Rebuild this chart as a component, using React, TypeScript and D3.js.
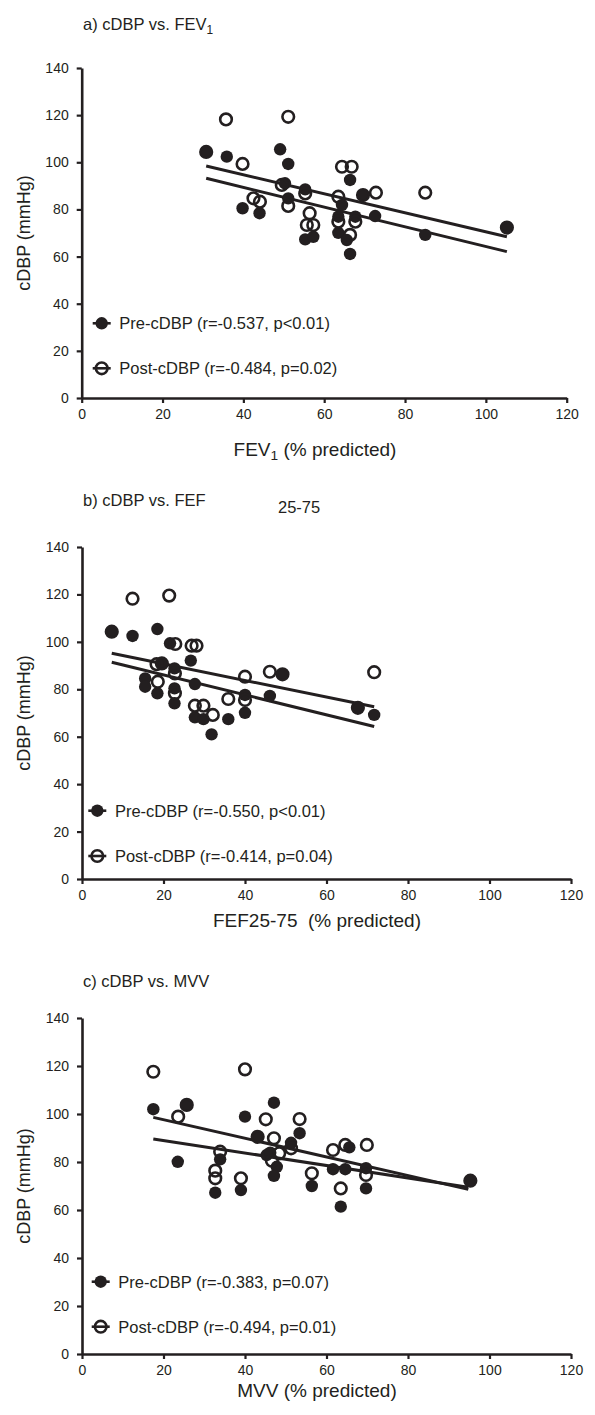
import * as React from 'react';
import { useEffect, useRef } from 'react';
import * as d3 from 'd3';

const font = "'Liberation Sans', Arial, Helvetica, sans-serif";
const ink = '#231f20';

// axis ticks (same for all three panels)
const xTicks = [0, 20, 40, 60, 80, 100, 120];
const yTicks = [0, 20, 40, 60, 80, 100, 120, 140];

// a) FEV1 (% predicted) vs cDBP
const fevPre = [
  [30.8, 104.4], [35.9, 102.4], [49.1, 105.5], [51.1, 99.3], [50.3, 91.1], [51.1, 84.7],
  [55.3, 88.5], [39.8, 80.5], [44, 78.4], [55.3, 67.3], [57.3, 68.4], [66.4, 92.5],
  [69.6, 86.1], [72.6, 77.2], [105.2, 72.3], [85, 69.2], [64.4, 81.9], [63.5, 76.9],
  [67.7, 76.9], [63.5, 70.1], [65.6, 67], [66.4, 61.1],
];
const fevPost = [
  [35.7, 118.2], [51.1, 119.3], [39.8, 99.3], [64.4, 98.1], [66.8, 98.1], [49.5, 90.4],
  [42.5, 84.7], [44.1, 83.3], [51.1, 81.5], [55.3, 86.8], [56.4, 78.4], [55.7, 73.4],
  [57.3, 73.4], [63.5, 85.4], [63.5, 74.8], [67.7, 74.8], [66.4, 69.2], [72.8, 87.1],
  [85, 87.1], [30.8, 104.4], [105.2, 72.3], [69.6, 86.1],
];
const fevFitPre = [[30.8, 93.2], [105.2, 62.1]];
const fevFitPost = [[30.8, 98.4], [105.2, 68.4]];

// b) FEF25-75 (% predicted) vs cDBP
const fefPre = [
  [7.3, 104.3], [12.4, 102.5], [18.5, 105.4], [21.6, 99.4], [26.7, 92.1], [19.6, 90.9],
  [22.7, 88.8], [15.5, 84.6], [15.5, 81.1], [18.5, 78.3], [22.7, 80.4], [22.7, 74.1],
  [27.7, 82.2], [40, 77.6], [46.1, 77.2], [40, 70.1], [27.7, 68.2], [29.8, 67.4],
  [35.9, 67.4], [31.8, 61], [49.2, 86.3], [67.7, 72.2], [71.7, 69.2],
];
const fefPost = [
  [12.4, 118.2], [21.4, 119.5], [22.9, 99.1], [26.9, 98.4], [28.1, 98.4], [18.3, 90.6],
  [40, 85.3], [46.1, 87.4], [18.6, 83.2], [22.8, 86.7], [22.8, 78.3], [35.9, 75.9],
  [40, 75.5], [27.7, 73.1], [29.8, 73.1], [32.1, 69.2], [71.7, 87.2], [7.3, 104.3],
  [19.6, 90.9], [49.2, 86.3], [67.7, 72.2],
];
const fefFitPre = [[7.3, 91.4], [71.7, 64.3]];
const fefFitPost = [[7.3, 95.2], [71.7, 72.6]];

// c) MVV (% predicted) vs cDBP
const mvvPre = [
  [17.5, 102], [25.7, 103.8], [23.5, 80.1], [40, 98.9], [47.1, 104.7], [43.1, 90.5],
  [53.4, 92], [51.3, 88], [45.3, 82.9], [46.2, 83.9], [47.8, 78], [47.1, 74.2],
  [33.9, 81.1], [32.7, 67.2], [39, 68.3], [56.4, 70], [61.6, 77], [64.6, 77],
  [65.6, 86.1], [69.7, 77.4], [69.7, 69], [63.5, 61.4], [95.3, 72.2],
];
const mvvPost = [
  [17.5, 117.6], [40, 118.6], [23.6, 98.9], [45.1, 97.8], [53.4, 97.9], [47.1, 89.9],
  [33.9, 84.3], [48.4, 83.6], [51.3, 85.7], [32.7, 76.4], [32.7, 73.2], [39, 73.2],
  [56.4, 75.3], [61.6, 85], [46.6, 80.5], [64.6, 87.1], [69.9, 87.1], [69.7, 74.6],
  [63.5, 69], [25.7, 103.8], [43.1, 90.5], [95.3, 72.2],
];
const mvvFitPre = [[17.5, 89.6], [94.8, 69.5]];
const mvvFitPost = [[17.5, 98.6], [94.8, 68.6]];

const panels = [
  {
    title: ['a) cDBP vs. FEV', '1', ''], titleY: 30,
    xLabel: ['FEV', '1', ' (% predicted)'], xLabelX: 315, xLabelY: 456,
    pre: fevPre, post: fevPost, fitPre: fevFitPre, fitPost: fevFitPost,
    legend: ['Pre-cDBP (r=-0.537, p<0.01)', 'Post-cDBP (r=-0.484, p=0.02)'],
    left: 81.7, right: 566.7, top: 68, bottom: 398, legX: 101.7, legY: [323.3, 368.3],
  },
  {
    title: ['b) cDBP vs. FEF', '', ''], titleY: 506,
    xLabel: ['FEF25-75  (% predicted)', '', ''], xLabelX: 317, xLabelY: 927,
    pre: fefPre, post: fefPost, fitPre: fefFitPre, fitPost: fefFitPost,
    legend: ['Pre-cDBP (r=-0.550, p<0.01)', 'Post-cDBP (r=-0.414, p=0.04)'],
    left: 82, right: 571, top: 547, bottom: 879, legX: 97.3, legY: [810.7, 856],
  },
  {
    title: ['c) cDBP vs. MVV', '', ''], titleY: 987,
    xLabel: ['MVV (% predicted)', '', ''], xLabelX: 317, xLabelY: 1397,
    pre: mvvPre, post: mvvPost, fitPre: mvvFitPre, fitPost: mvvFitPost,
    legend: ['Pre-cDBP (r=-0.383, p=0.07)', 'Post-cDBP (r=-0.494, p=0.01)'],
    left: 82, right: 571, top: 1018, bottom: 1354, legX: 100.7, legY: [1281.7, 1326.7],
  },
];

function subText(sel, parts, size) {
  sel.append('tspan').text(parts[0]);
  if (parts[1]) {
    sel.append('tspan').attr('dy', 4).attr('font-size', size * 0.72).text(parts[1]);
    if (parts[2]) sel.append('tspan').attr('dy', -4).text(parts[2]);
  }
}

export default function App() {
  const ref = useRef(null);

  useEffect(() => {
    const svg = d3.select(ref.current);
    svg.selectAll('*').remove();

    panels.forEach((p) => {
      const x = d3.scaleLinear().domain([0, 120]).range([p.left, p.right]);
      const y = d3.scaleLinear().domain([0, 140]).range([p.bottom, p.top]);
      const g = svg.append('g');

      // title
      const t = g.append('text').attr('x', 83).attr('y', p.titleY)
        .attr('font-size', 16.5).attr('font-family', font).attr('fill', ink);
      subText(t, p.title, 16.5);
      if (p.title[0].startsWith('b)')) {
        g.append('text').attr('x', 278).attr('y', p.titleY + 7)
          .attr('font-size', 16.5).attr('font-family', font).attr('fill', ink).text('25-75');
      }

      // axes
      const ya = g.append('g').attr('transform', `translate(${p.left},0)`)
        .call(d3.axisLeft(y).tickValues(yTicks).tickSize(5).tickSizeOuter(0).tickPadding(8));
      const xa = g.append('g').attr('transform', `translate(0,${p.bottom})`)
        .call(d3.axisBottom(x).tickValues(xTicks).tickSize(5).tickSizeOuter(0).tickPadding(6));
      [ya, xa].forEach((a) => {
        a.attr('font-family', font).attr('font-size', 14);
        a.select('.domain').attr('stroke', ink).attr('stroke-width', 2.6);
        a.selectAll('.tick line').attr('stroke', ink).attr('stroke-width', 2.2);
        a.selectAll('.tick text').attr('fill', ink);
      });

      // axis labels
      g.append('text')
        .attr('transform', `translate(30,${(p.top + p.bottom) / 2}) rotate(-90)`)
        .attr('text-anchor', 'middle').attr('font-size', 18)
        .attr('font-family', font).attr('fill', ink).text('cDBP (mmHg)');
      const xl = g.append('text').attr('x', p.xLabelX).attr('y', p.xLabelY)
        .attr('text-anchor', 'middle').attr('font-size', 19).attr('font-family', font)
        .attr('fill', ink).style('white-space', 'pre');
      subText(xl, p.xLabel, 19);

      // regression lines
      g.selectAll('line.fit').data([p.fitPre, p.fitPost]).join('line')
        .attr('class', 'fit')
        .attr('x1', (d) => x(d[0][0])).attr('y1', (d) => y(d[0][1]))
        .attr('x2', (d) => x(d[1][0])).attr('y2', (d) => y(d[1][1]))
        .attr('stroke', ink).attr('stroke-width', 3);

      // points
      g.selectAll('circle.pre').data(p.pre).join('circle').attr('class', 'pre')
        .attr('cx', (d) => x(d[0])).attr('cy', (d) => y(d[1])).attr('r', 6.2).attr('fill', ink);
      g.selectAll('circle.post').data(p.post).join('circle').attr('class', 'post')
        .attr('cx', (d) => x(d[0])).attr('cy', (d) => y(d[1])).attr('r', 5.8)
        .attr('fill', 'none').attr('stroke', ink).attr('stroke-width', 2.6);

      // legend
      p.legend.forEach((label, i) => {
        const ly = p.legY[i];
        g.append('line').attr('x1', p.legX - 9).attr('x2', p.legX + 9)
          .attr('y1', ly).attr('y2', ly).attr('stroke', ink).attr('stroke-width', 2.6);
        if (i === 0) {
          g.append('circle').attr('cx', p.legX).attr('cy', ly).attr('r', 6.2).attr('fill', ink);
        } else {
          g.append('circle').attr('cx', p.legX).attr('cy', ly).attr('r', 5.8)
            .attr('fill', 'none').attr('stroke', ink).attr('stroke-width', 2.6);
        }
        g.append('text').attr('x', p.legX + 17.6).attr('y', ly + 6)
          .attr('font-size', 16.5).attr('font-family', font).attr('fill', ink).text(label);
      });
    });
  }, []);

  return (
    <div style={{ position: 'absolute', left: 0, top: 0 }}>
      <svg ref={ref} width={595} height={1415} style={{ display: 'block', background: '#fff' }} />
    </div>
  );
}
